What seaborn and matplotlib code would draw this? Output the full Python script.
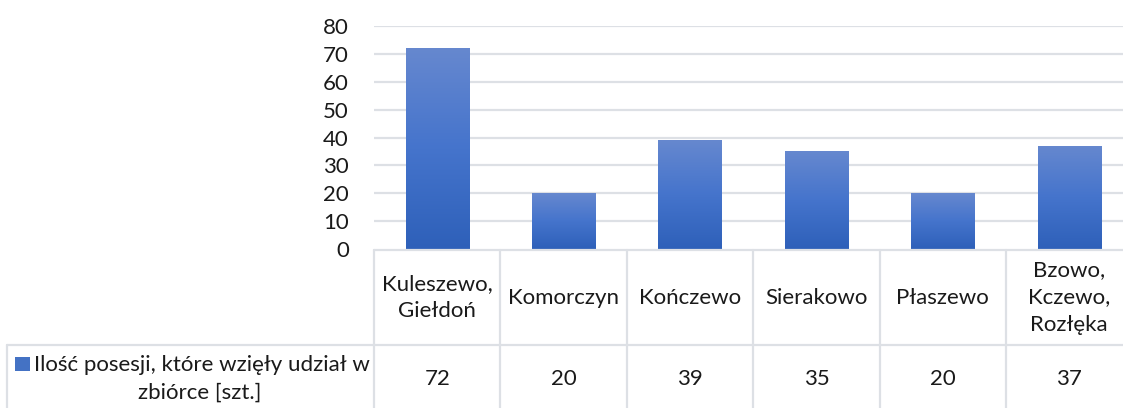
import numpy as np
import pandas as pd
import matplotlib
matplotlib.use("Agg")
import matplotlib.pyplot as plt
from matplotlib.colors import LinearSegmentedColormap
from matplotlib.lines import Line2D
from matplotlib.patches import Rectangle
import seaborn as sns

# Data
categories = ["Kuleszewo,\nGiełdoń", "Komorczyn", "Kończewo", "Sierakowo",
              "Płaszewo", "Bzowo,\nKczewo,\nRozłęka"]
values = [72, 20, 39, 35, 20, 37]
series_name = "Ilość posesji, które wzięły udział w\nzbiórce [szt.]"
yticks = [0, 10, 20, 30, 40, 50, 60, 70, 80]

sns.set_theme(style="white")
plt.rcParams["font.family"] = ["Lato", "DejaVu Sans"]

W, H = 1123, 408
DPI = 100
fig = plt.figure(figsize=(W / DPI, H / DPI), dpi=DPI)

# pixel geometry helpers
def fx(px):
    return px / W

def fy(py):
    return 1 - py / H

FS = 16
plot_left, col_w = 374, 126.4
y_top, y_zero = 26, 249
ax = fig.add_axes([fx(plot_left), fy(y_zero), fx(col_w * 6), (y_zero - y_top) / H])

df = pd.DataFrame({"cat": categories, "val": values})
sns.barplot(data=df, x="cat", y="val", ax=ax, color="#4472C4", width=0.5,
            saturation=1, errorbar=None)

ax.set_xlim(-0.5, 5.5)
ax.set_ylim(0, 80)
ax.set_yticks(yticks)
ax.set_yticklabels([str(t) for t in yticks])
ax.tick_params(axis="y", length=0, pad=18, labelsize=FS, labelcolor="#1a1a1a")
ax.set_xticks([])
ax.set_xlabel("")
ax.set_ylabel("")
for s in ax.spines.values():
    s.set_visible(False)
grid_color = "#DDE0E5"
for t in yticks[1:]:
    ax.axhline(t, color=grid_color, lw=1.6, zorder=0)

# vertical gradient fill for each bar
cmap = LinearSegmentedColormap.from_list("bar_grad", ["#2E60B9", "#4574CC", "#6688CF"])
grad = np.linspace(0, 1, 256).reshape(-1, 1)
for p in list(ax.patches):
    x0, y0 = p.get_x(), p.get_y()
    w, h = p.get_width(), p.get_height()
    im = ax.imshow(grad, cmap=cmap, origin="lower", aspect="auto",
                   extent=[x0, x0 + w, y0, y0 + h], zorder=2)
    im.set_clip_path(p)
    p.set_facecolor("none")
    p.set_edgecolor("none")
ax.set_xlim(-0.5, 5.5)
ax.set_ylim(0, 80)

# data table below the plot
line_kw = dict(color=grid_color, lw=1.6, transform=fig.transFigure)
row1_top, row1_bot, row2_bot = 250, 345, 420
right_edge = plot_left + 6 * col_w
fig.add_artist(Line2D([fx(plot_left), fx(right_edge)], [fy(row1_top)] * 2, **line_kw))
fig.add_artist(Line2D([fx(7), fx(right_edge)], [fy(row1_bot)] * 2, **line_kw))
fig.add_artist(Line2D([fx(7)] * 2, [fy(row1_bot), fy(row2_bot)], **line_kw))
for k in range(7):
    xk = plot_left + k * col_w
    fig.add_artist(Line2D([fx(xk)] * 2, [fy(row1_top), fy(row2_bot)], **line_kw))

text_color = "#1a1a1a"
for i, (c, v) in enumerate(zip(categories, values)):
    cx = plot_left + (i + 0.5) * col_w
    fig.text(fx(cx), fy((row1_top + row1_bot) / 2), c, ha="center", va="center",
             fontsize=FS, color=text_color, linespacing=1.47)
    fig.text(fx(cx), fy(379), str(v), ha="center", va="center",
             fontsize=FS, color=text_color)

# series label with legend key
line1, line2 = series_name.split("\n")
fig.add_artist(Rectangle((fx(15), fy(371)), fx(15), 14 / H,
                         transform=fig.transFigure, facecolor="#4472C4",
                         edgecolor="none"))
fig.text(fx(34), fy(365), line1, ha="left", va="center", fontsize=FS, color=text_color)
fig.text(fx(200), fy(393), line2, ha="center", va="center", fontsize=FS, color=text_color)

fig.savefig("out.png", dpi=DPI)
